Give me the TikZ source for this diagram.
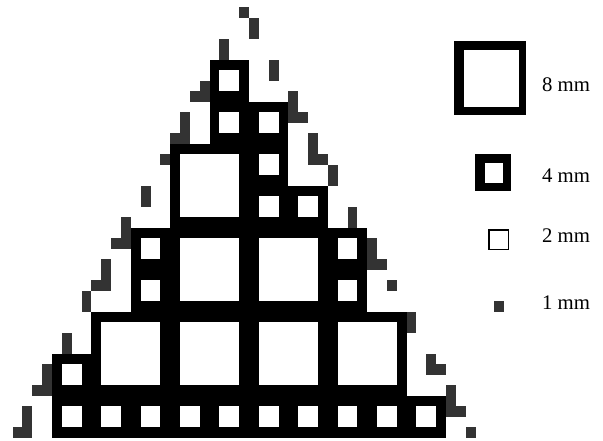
\documentclass[tikz,border=0pt]{standalone}
\usepackage{fontspec}
\setmainfont{Liberation Serif}
\begin{document}
\begin{tikzpicture}[x=0.25cm, y=0.2665cm, font=\fontsize{15}{17}\selectfont,
    dust/.style={fill=black!80},
    legend/.style={anchor=west, inner sep=0pt}]
  \useasboundingbox (-5.28,-0.29) rectangle (55.94,41.71);
  % blocks of 4 mm and 8 mm, each with its hole
  \foreach \c/\r in {0/0,4/0,8/0,12/0,16/0,20/0,24/0,28/0,32/0,36/0,
      0/4,8/12,28/12,8/16,28/16,20/20,24/20,20/24,16/28,20/28,16/32} {
    \fill (\c,\r) rectangle ++(4,4);
    \fill[white] (\c+1,\r+1) rectangle ++(2,2);
  }
  \foreach \c/\r in {4/4,12/4,20/4,28/4,12/12,20/12,12/20} {
    \fill (\c,\r) rectangle ++(8,8);
    \fill[white] (\c+1,\r+1) rectangle ++(6,6);
  }
  \foreach \c/\r/\h in {-3/0/3,-4/0/1,-1/4/3,-2/4/1,1/8/2,3/12/2,5/14/3,4/14/1,
      7/18/3,6/18/1,9/22/2,11/26/1,13/28/3,12/28/1,15/32/2,14/32/1,17/36/2,19/40/1,
      20/38/2,22/34/2,24/30/3,25/30/1,26/26/3,27/26/1,28/24/2,30/20/2,32/16/3,
      33/16/1,34/14/1,36/10/2,38/6/2,39/6/1,40/2/3,41/2/1,42/0/1}
    \fill[dust] (\c,\r) rectangle ++(1,\h);
  % legend
  \fill (40.81,30.76) rectangle (48.12,37.81);
  \fill[white] (41.83,31.55) rectangle (47.44,36.95);
  \fill (42.94,23.55) rectangle (46.6,27.05);
  \fill[white] (43.96,24.26) rectangle (45.82,26.16);
  \draw[line width=0.8pt] (44.37,17.97) rectangle (46.32,19.81);
  \fill[dust] (44.9,12.03) rectangle (45.92,13.05);
  \node[legend] (l8) at (49.72,33.6) {8 mm};
  \node[legend] (l4) at (49.72,25.0) {4 mm};
  \node[legend] (l2) at (49.72,19.3) {2 mm};
  \node[legend] (l1) at (49.72,12.86) {1 mm};
\end{tikzpicture}
\end{document}
